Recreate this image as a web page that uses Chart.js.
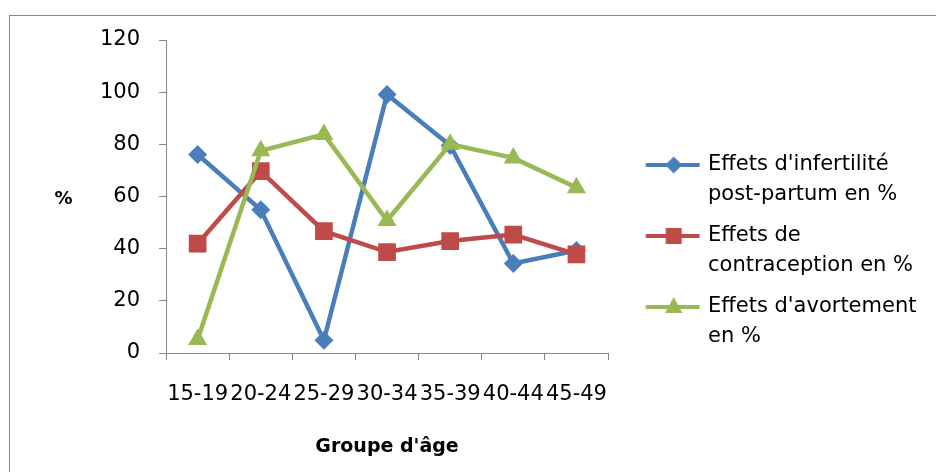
<!DOCTYPE html>
<html><head><meta charset="utf-8">
<script src="https://cdn.jsdelivr.net/npm/chart.js@4.4.1/dist/chart.umd.min.js"></script>
<style>
html,body{margin:0;padding:0;width:936px;height:472px;overflow:hidden;background:#fff;}
#frame{position:absolute;left:9px;top:15px;width:2000px;height:2000px;border:1px solid #868686;}
#wrap{position:absolute;left:0;top:0;width:936px;height:472px;}
</style></head><body>
<div id="frame"></div>
<div id="wrap"><canvas id="c" width="936" height="472"></canvas></div>
<script>
const categories = ['15-19', '20-24', '25-29', '30-34', '35-39', '40-44', '45-49'];
const infertilite = [76.1, 54.9, 4.9, 99.1, 79.6, 34.3, 39.3];
const contraception = [41.9, 69.7, 46.7, 38.7, 42.9, 45.4, 37.8];
const avortement = [5.2, 77.5, 83.8, 50.8, 80.0, 74.8, 63.4];
const yTicks = [0, 20, 40, 60, 80, 100, 120];
const legendLabels = [
  ["Effets d'infertilité", "post-partum en %"],
  ["Effets de", "contraception en %"],
  ["Effets d'avortement", "en %"]
];
const seriesNames = ["Effets d'infertilité post-partum en %", "Effets de contraception en %", "Effets d'avortement en %"];
const xTitle = "Groupe d'âge";
const yTitle = "%";

const colors = ['#4A7EBB', '#BE4B48', '#98B954'];
const FONT = '"DejaVu Sans", sans-serif';
const LEGEND_WIDTH = 320;

function drawMarker(ctx, style, x, y, r) {
  ctx.beginPath();
  if (style === 'rectRot') {
    ctx.moveTo(x - r, y); ctx.lineTo(x, y - r); ctx.lineTo(x + r, y); ctx.lineTo(x, y + r);
  } else if (style === 'rect') {
    ctx.rect(x - r, y - r, 2 * r, 2 * r);
  } else {
    ctx.moveTo(x, y - r); ctx.lineTo(x + r * 0.87, y + r * 0.6); ctx.lineTo(x - r * 0.87, y + r * 0.6);
  }
  ctx.closePath();
  ctx.fill();
}
function legendIcon(color, style, r) {
  const c = document.createElement('canvas');
  c.width = 84; c.height = 24;
  const ctx = c.getContext('2d');
  ctx.strokeStyle = color; ctx.fillStyle = color; ctx.lineWidth = 4;
  ctx.beginPath(); ctx.moveTo(29.5, 12); ctx.lineTo(83.5, 12); ctx.stroke();
  drawMarker(ctx, style, 57.5, 12, r);
  return c;
}
const styles = ['rectRot', 'rect', 'triangle'];
const icons = [legendIcon(colors[0], 'rectRot', 8.5), legendIcon(colors[1], 'rect', 8), legendIcon(colors[2], 'triangle', 10)];

const pctPlugin = {
  id: 'pct',
  beforeLayout(chart) {
    const lg = chart.legend;
    if (lg && !lg._wPatched) {
      const orig = lg.fit;
      lg.fit = function () { orig.call(this); this.width = LEGEND_WIDTH; };
      lg._wPatched = true;
    }
  },
  afterDraw(chart) {
    const {ctx, chartArea} = chart;
    ctx.save();
    ctx.font = 'bold 18px ' + FONT;
    ctx.fillStyle = '#000';
    ctx.textAlign = 'center';
    ctx.textBaseline = 'middle';
    ctx.fillText(yTitle, 63.5, (chartArea.top + chartArea.bottom) / 2 + 3);
    ctx.restore();
  }
};

const mk = (i, data, radius) => ({
  label: seriesNames[i],
  data: data,
  borderColor: colors[i],
  backgroundColor: colors[i],
  pointBackgroundColor: colors[i],
  pointBorderColor: colors[i],
  pointBorderWidth: 0,
  pointStyle: styles[i],
  pointRadius: radius,
  pointHoverRadius: radius,
  borderWidth: 4.5,
  tension: 0,
  order: 3 - i
});

new Chart(document.getElementById('c'), {
  type: 'line',
  data: {
    labels: categories,
    datasets: [mk(0, infertilite, 9.5), mk(1, contraception, 12.5), mk(2, avortement, 11)]
  },
  plugins: [pctPlugin],
  options: {
    responsive: false,
    animation: false,
    devicePixelRatio: 1,
    layout: {padding: {left: 81, top: 40, right: 8, bottom: 8}},
    plugins: {
      tooltip: {enabled: false},
      legend: {
        position: 'right',
        align: 'start',
        title: {display: true, text: '', font: {size: 10, lineHeight: 1.2}, padding: {top: 91.5, bottom: 0}},
        labels: {
          usePointStyle: true,
          pointStyleWidth: 78.5,
          boxHeight: 21,
          padding: 11,
          color: '#000',
          font: {family: FONT, size: 21, lineHeight: '30px'},
          generateLabels: (chart) => chart.data.datasets.map((ds, i) => ({
            text: legendLabels[i],
            pointStyle: icons[i],
            fillStyle: colors[i],
            strokeStyle: colors[i],
            lineWidth: 0,
            hidden: false,
            datasetIndex: i,
            fontColor: '#000'
          }))
        }
      }
    },
    scales: {
      x: {
        type: 'category',
        offset: true,
        grid: {display: true, drawOnChartArea: false, drawTicks: true, tickLength: 7, offset: true, color: '#868686'},
        border: {display: true, color: '#868686', width: 1},
        ticks: {color: '#000', font: {family: FONT, size: 21}, padding: 22, autoSkip: false, maxRotation: 0, minRotation: 0},
        title: {display: true, text: xTitle, color: '#000', font: {family: FONT, size: 19, weight: 'bold'}, padding: {top: 6, bottom: 6}}
      },
      y: {
        min: 0, max: 120,
        afterBuildTicks: (s) => { s.ticks = yTicks.map(v => ({value: v})); },
        grid: {display: true, drawOnChartArea: false, drawTicks: true, tickLength: 7, color: '#868686'},
        border: {display: true, color: '#868686', width: 1},
        ticks: {color: '#000', font: {family: FONT, size: 21}, padding: 19}
      }
    }
  }
});
</script>
</body></html>
